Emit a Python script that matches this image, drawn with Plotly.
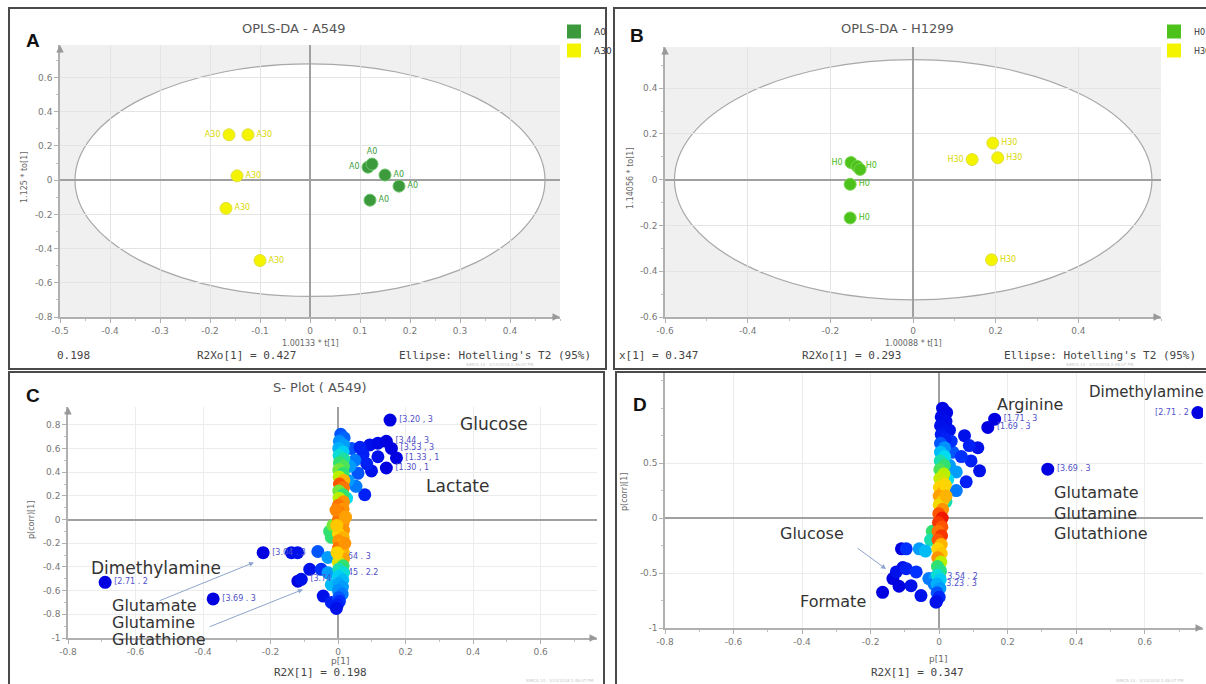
import plotly.graph_objects as go

W, H = 1206, 684

# ---------------- data ----------------
# Panel A : OPLS-DA scores A549
A0_t = [0.116, 0.124, 0.150, 0.178, 0.120]
A0_to = [0.076, 0.094, 0.030, -0.035, -0.117]
A0_pos = ['middle left', 'top center', 'middle right', 'middle right', 'middle right']
A30_t = [-0.162, -0.124, -0.146, -0.168, -0.100]
A30_to = [0.265, 0.265, 0.025, -0.165, -0.470]
A30_pos = ['middle left', 'middle right', 'middle right', 'middle right', 'middle right']

# Panel B : OPLS-DA scores H1299
H0_t = [-0.150, -0.135, -0.128, -0.152, -0.152]
H0_to = [0.075, 0.058, 0.045, -0.020, -0.167]
H0_lbl = ['H0', 'H0', '', 'H0', 'H0']
H0_pos = ['middle left', 'middle right', 'middle right', 'middle right', 'middle right']
H30_t = [0.193, 0.143, 0.205, 0.190]
H30_to = [0.160, 0.088, 0.096, -0.350]
H30_pos = ['middle right', 'middle left', 'middle right', 'middle right']

# Panel C : S-plot A549 (outlying variables)
C_out_p = [0.154, 0.094, 0.118, 0.143, 0.158, 0.074, 0.118, 0.173, 0.143, 0.099, 0.079,
           0.059, 0.053, 0.040, 0.050, 0.035, 0.030, 0.025, 0.065, 0.085,
           -0.690, -0.370, -0.222, -0.138, -0.120, -0.060, -0.119, -0.109, -0.084,
           -0.050, -0.044, -0.020, -0.030, -0.030, -0.020, -0.025, -0.020, -0.015]
C_out_pc = [0.84, 0.63, 0.645, 0.66, 0.60, 0.55, 0.53, 0.52, 0.435, 0.41, 0.21,
            0.39, 0.28, 0.60, 0.50, 0.45, 0.33, 0.18, 0.61, 0.47,
            -0.53, -0.67, -0.28, -0.28, -0.28, -0.27, -0.52, -0.505, -0.42,
            -0.42, -0.646, -0.70, -0.32, -0.45, -0.55, -0.10, -0.15, -0.05]
C_out_c = [0.0, 0.05, 0.03, 0.0, 0.0, 0.1, 0.05, 0.0, 0.0, 0.05, 0.1,
           0.2, 0.25, 0.2, 0.25, 0.3, 0.3, 0.4, 0.1, 0.1,
           0.0, 0.0, 0.0, 0.05, 0.05, 0.2, 0.0, 0.05, 0.05,
           0.15, 0.05, 0.1, 0.3, 0.3, 0.35, 0.5, 0.5, 0.55]
C_out_lbl = ['[3.20 , 3', '', '', '[3.44 , 3', '[3.53 , 3', '', '', '[1.33 , 1', '[1.30 , 1', '', '',
             '', '', '', '', '', '', '', '', '',
             '[2.71 . 2', '[3.69 . 3', '[3.04 . 3', '', '', '', '', '[3.74 . 3', '',
             '', '', '', '[3.64 . 3', '[2.45 . 2.2', '', '', '', '']

# Panel C : S-plot A549 (central column)
C_col_p = [0.008, 0.018, 0.004, 0.016, 0.002, 0.015, 0.003, 0.017, 0.004, 0.016,
           0.002, 0.015, 0.003, 0.017, 0.004, 0.016, 0.002, 0.015, 0.003, 0.016,
           0.001, 0.015, 0.003, 0.016, 0.001, 0.015, 0.002, 0.016, 0.001, 0.015,
           0.002, 0.016, 0.001, 0.015, 0.002, 0.016, 0.001, 0.015, 0.002, 0.016,
           0.001, 0.014, 0.002, 0.013, 0.001, 0.012, 0.002, 0.004, -0.002, -0.005,
           -0.006, 0.022, -0.004, 0.020, -0.003]
C_col_pc = [0.72, 0.69, 0.66, 0.63, 0.60, 0.57, 0.54, 0.51, 0.48, 0.45,
            0.42, 0.39, 0.36, 0.33, 0.30, 0.27, 0.24, 0.21, 0.18, 0.15,
            0.12, 0.09, 0.06, 0.03, 0.00, -0.03, -0.06, -0.09, -0.12, -0.15,
            -0.18, -0.21, -0.24, -0.27, -0.30, -0.33, -0.36, -0.39, -0.42, -0.45,
            -0.48, -0.51, -0.54, -0.57, -0.60, -0.63, -0.66, -0.69, -0.72, -0.75,
            0.08, 0.02, -0.05, -0.20, -0.28]
C_col_c = [0.2, 0.22, 0.28, 0.3, 0.33, 0.38, 0.42, 0.46, 0.5, 0.52,
           0.55, 0.5, 0.6, 0.75, 0.9, 0.85, 0.55, 0.5, 0.6, 0.8,
           0.85, 0.8, 0.85, 0.8, 0.85, 0.8, 0.75, 0.8, 0.7, 0.75,
           0.8, 0.7, 0.85, 0.75, 0.7, 0.78, 0.65, 0.5, 0.45, 0.42,
           0.38, 0.35, 0.32, 0.3, 0.28, 0.25, 0.2, 0.15, 0.1, 0.05,
           0.82, 0.78, 0.72, 0.8, 0.7]

# Panel D : S-plot H1299 (outlying variables)
D_out_p = [0.755, 0.162, 0.142, 0.317, 0.074, 0.113, 0.088, 0.118, 0.079, 0.050,
           0.050, 0.093, 0.040, 0.030, 0.035, 0.065, 0.030, 0.025, 0.020,
           -0.110, -0.106, -0.135, -0.117, -0.165, -0.125, -0.096, -0.058, -0.096,
           -0.067, -0.082, -0.053, -0.009, -0.030, -0.020, -0.025, -0.040, -0.012, -0.015]
D_out_pc = [0.96, 0.90, 0.825, 0.445, 0.75, 0.64, 0.66, 0.43, 0.33, 0.25,
            0.42, 0.52, 0.60, 0.80, 0.70, 0.56, 0.48, 0.35, 0.15,
            -0.28, -0.45, -0.55, -0.62, -0.675, -0.49, -0.28, -0.28, -0.46,
            -0.49, -0.615, -0.705, -0.765, -0.55, -0.12, -0.20, -0.30, -0.54, -0.60]
D_out_c = [0.0, 0.0, 0.0, 0.0, 0.05, 0.05, 0.1, 0.05, 0.1, 0.25,
           0.3, 0.1, 0.2, 0.05, 0.15, 0.15, 0.3, 0.4, 0.45,
           0.0, 0.05, 0.0, 0.0, 0.0, 0.05, 0.15, 0.3, 0.1,
           0.15, 0.05, 0.05, 0.1, 0.25, 0.5, 0.45, 0.35, 0.3, 0.25]
D_out_lbl = ['[2.71 . 2', '[1.71 . 3', '[1.69 . 3', '[3.69 . 3', '', '', '', '', '', '',
             '', '', '', '', '', '', '', '', '',
             '', '', '', '', '', '', '', '', '',
             '', '', '', '', '', '', '', '', '[3.54 . 2', '[3.23 . 3']
D_out_pos = ['middle left'] + ['middle right'] * 37

# Panel D : S-plot H1299 (central column)
D_col_p = [0.010, 0.022, 0.006, 0.020, 0.004, 0.020, 0.006, 0.018, 0.004, 0.016,
           0.004, 0.016, 0.003, 0.015, 0.002, 0.014, 0.002, 0.013, 0.001, 0.012,
           0.000, 0.011, 0.000, 0.010, -0.001, 0.009, -0.002, 0.008, -0.003, 0.007,
           -0.003, 0.006, -0.004, 0.006, -0.004, 0.005, -0.005, 0.004, -0.005, 0.003,
           -0.006, 0.002, -0.006, 0.000, -0.008, 0.018, 0.020]
D_col_pc = [1.00, 0.96, 0.92, 0.88, 0.84, 0.80, 0.76, 0.72, 0.68, 0.64,
            0.60, 0.56, 0.52, 0.48, 0.44, 0.40, 0.36, 0.32, 0.28, 0.24,
            0.20, 0.16, 0.12, 0.08, 0.04, 0.00, -0.04, -0.08, -0.12, -0.16,
            -0.20, -0.24, -0.28, -0.32, -0.36, -0.40, -0.44, -0.48, -0.52, -0.56,
            -0.60, -0.64, -0.68, -0.72, -0.76, 0.30, 0.20]
D_col_c = [0.02, 0.02, 0.03, 0.04, 0.05, 0.06, 0.08, 0.1, 0.2, 0.28,
           0.35, 0.4, 0.45, 0.5, 0.52, 0.6, 0.62, 0.65, 0.7, 0.75,
           0.78, 0.72, 0.68, 0.8, 0.9, 1.0, 0.95, 0.9, 0.85, 0.95,
           0.9, 0.75, 0.7, 0.72, 0.8, 0.6, 0.5, 0.48, 0.42, 0.38,
           0.33, 0.3, 0.2, 0.12, 0.05, 0.7, 0.75]

# axis ticks
A_xticks = [-0.5, -0.4, -0.3, -0.2, -0.1, 0, 0.1, 0.2, 0.3, 0.4]
A_xtext = ['-0.5', '-0.4', '-0.3', '-0.2', '-0.1', '0', '0.1', '0.2', '0.3', '0.4']
A_yticks = [-0.8, -0.6, -0.4, -0.2, 0, 0.2, 0.4, 0.6]
A_ytext = ['-0.8', '-0.6', '-0.4', '-0.2', '0', '0.2', '0.4', '0.6']
B_xticks = [-0.6, -0.4, -0.2, 0, 0.2, 0.4]
B_xtext = ['-0.6', '-0.4', '-0.2', '0', '0.2', '0.4']
B_yticks = [-0.6, -0.4, -0.2, 0, 0.2, 0.4]
B_ytext = ['-0.6', '-0.4', '-0.2', '0', '0.2', '0.4']
S_xticks = [-0.8, -0.6, -0.4, -0.2, 0, 0.2, 0.4, 0.6]
S_xtext = ['-0.8', '-0.6', '-0.4', '-0.2', '0', '0.2', '0.4', '0.6']
C_yticks = [-1, -0.8, -0.6, -0.4, -0.2, 0, 0.2, 0.4, 0.6, 0.8]
C_ytext = ['-1', '-0.8', '-0.6', '-0.4', '-0.2', '0', '0.2', '0.4', '0.6', '0.8']
D_yticks = [-1, -0.5, 0, 0.5]
D_ytext = ['-1', '-0.5', '0', '0.5']

# ---------------- helpers ----------------
def px(x):
    return x / W

def py(y):
    return 1 - y / H

JET = [[0.0, '#0000e0'], [0.15, '#0030ff'], [0.28, '#0090ff'], [0.4, '#00dcf0'],
       [0.5, '#30e070'], [0.6, '#b8f000'], [0.7, '#ffd400'], [0.8, '#ff9400'],
       [0.9, '#ff5400'], [1.0, '#f01800']]

FONT = 'DejaVu Sans'
MONO = 'DejaVu Sans Mono'
TICKF = dict(family=FONT, size=9, color='#777')
MS = 13

fig = go.Figure()

# --- Panel A traces
fig.add_trace(go.Scatter(x=A0_t, y=A0_to, mode='markers+text', text=['A0'] * 5,
                         textposition=A0_pos, textfont=dict(family=FONT, size=8, color='#3c9c3c'),
                         marker=dict(size=12, color='#3c9a3c', line=dict(color='#6cc46c', width=1)),
                         showlegend=False, xaxis='x', yaxis='y'))
fig.add_trace(go.Scatter(x=A30_t, y=A30_to, mode='markers+text', text=['A30'] * 5,
                         textposition=A30_pos, textfont=dict(family=FONT, size=8, color='#d8d800'),
                         marker=dict(size=12, color='#f4f400', line=dict(color='#e0e040', width=1)),
                         showlegend=False, xaxis='x', yaxis='y'))
fig.add_trace(go.Scatter(x=[None], y=[None], mode='markers', name='A0',
                         marker=dict(symbol='square', size=14, color='#3c9a3c'),
                         legend='legend', xaxis='x', yaxis='y'))
fig.add_trace(go.Scatter(x=[None], y=[None], mode='markers', name='A30',
                         marker=dict(symbol='square', size=14, color='#f4f400'),
                         legend='legend', xaxis='x', yaxis='y'))

# --- Panel B traces
fig.add_trace(go.Scatter(x=H0_t, y=H0_to, mode='markers+text', text=H0_lbl,
                         textposition=H0_pos, textfont=dict(family=FONT, size=8, color='#48b820'),
                         marker=dict(size=12, color='#4cc21a', line=dict(color='#7ad850', width=1)),
                         showlegend=False, xaxis='x2', yaxis='y2'))
fig.add_trace(go.Scatter(x=H30_t, y=H30_to, mode='markers+text', text=['H30'] * 4,
                         textposition=H30_pos, textfont=dict(family=FONT, size=8, color='#d8d800'),
                         marker=dict(size=12, color='#f4f400', line=dict(color='#e0e040', width=1)),
                         showlegend=False, xaxis='x2', yaxis='y2'))
fig.add_trace(go.Scatter(x=[None], y=[None], mode='markers', name='H0',
                         marker=dict(symbol='square', size=14, color='#4cc21a'),
                         legend='legend2', xaxis='x2', yaxis='y2'))
fig.add_trace(go.Scatter(x=[None], y=[None], mode='markers', name='H30',
                         marker=dict(symbol='square', size=14, color='#f4f400'),
                         legend='legend2', xaxis='x2', yaxis='y2'))

# --- Panel C traces
fig.add_trace(go.Scatter(x=C_out_p, y=C_out_pc, mode='markers+text', text=C_out_lbl,
                         textposition='middle right', textfont=dict(family=FONT, size=8, color='#5050c8'),
                         marker=dict(size=MS, color=C_out_c, colorscale=JET, cmin=0, cmax=1, line=dict(width=0)),
                         showlegend=False, xaxis='x3', yaxis='y3'))
fig.add_trace(go.Scatter(x=C_col_p, y=C_col_pc, mode='markers',
                         marker=dict(size=MS, color=C_col_c, colorscale=JET, cmin=0, cmax=1, line=dict(width=0)),
                         showlegend=False, xaxis='x3', yaxis='y3'))

# --- Panel D traces
fig.add_trace(go.Scatter(x=D_out_p, y=D_out_pc, mode='markers+text', text=D_out_lbl,
                         textposition=D_out_pos, textfont=dict(family=FONT, size=8, color='#5050c8'),
                         marker=dict(size=MS, color=D_out_c, colorscale=JET, cmin=0, cmax=1, line=dict(width=0)),
                         showlegend=False, xaxis='x4', yaxis='y4'))
fig.add_trace(go.Scatter(x=D_col_p, y=D_col_pc, mode='markers',
                         marker=dict(size=MS, color=D_col_c, colorscale=JET, cmin=0, cmax=1, line=dict(width=0)),
                         showlegend=False, xaxis='x4', yaxis='y4'))


def ax_common(tickvals, ticktext, rng, dom, anchor, grid='#e4e4e4', minor_dt=None):
    d = dict(domain=dom, range=rng, anchor=anchor, tickvals=tickvals, ticktext=ticktext,
             tickfont=TICKF, showgrid=True, gridcolor=grid, gridwidth=1,
             zeroline=True, zerolinecolor='#a0a0a0', zerolinewidth=1.5,
             showline=True, linecolor='#b0b0b0', linewidth=1.5,
             ticks='outside', ticklen=4, tickcolor='#b0b0b0', fixedrange=True)
    if minor_dt is not None:
        d['minor'] = dict(dtick=minor_dt, ticks='outside', ticklen=2, tickcolor='#c0c0c0', showgrid=False)
    return d


layout = dict(
    width=W, height=H, margin=dict(l=0, r=0, t=0, b=0, pad=0, autoexpand=False),
    paper_bgcolor='white', plot_bgcolor='white',
    font=dict(family=FONT, color='#444'),
    xaxis=ax_common(A_xticks, A_xtext, [-0.5, 0.5], [px(60), px(560)], 'y', minor_dt=0.05),
    yaxis=ax_common(A_yticks, A_ytext, [-0.8, 0.79], [py(317), py(45)], 'x', minor_dt=0.1),
    xaxis2=ax_common(B_xticks, B_xtext, [-0.6, 0.6], [px(665), px(1161)], 'y2', minor_dt=0.1),
    yaxis2=ax_common(B_yticks, B_ytext, [-0.6, 0.58], [py(317), py(47)], 'x2', minor_dt=0.1),
    xaxis3=ax_common(S_xticks, S_xtext, [-0.8, 0.767], [px(68), px(597)], 'y3', grid='#ececec', minor_dt=0.1),
    yaxis3=ax_common(C_yticks, C_ytext, [-1, 0.95], [py(638), py(407)], 'x3', grid='#ececec', minor_dt=0.1),
    xaxis4=ax_common(S_xticks, S_xtext, [-0.8, 0.77], [px(665), px(1203)], 'y4', grid='#ececec', minor_dt=0.1),
    yaxis4=ax_common(D_yticks, D_ytext, [-1, 1.32], [py(628), py(373)], 'x4', grid='#ececec', minor_dt=0.25),
    legend=dict(x=px(554), y=py(17), xanchor='left', yanchor='top', bgcolor='rgba(0,0,0,0)',
                font=dict(family=FONT, size=9, color='#333'), itemwidth=30, tracegroupgap=0),
    legend2=dict(x=px(1154), y=py(17), xanchor='left', yanchor='top', bgcolor='rgba(0,0,0,0)',
                 font=dict(family=FONT, size=8, color='#333'), itemwidth=30, tracegroupgap=0),
)
fig.update_layout(**layout)

shapes = []
# gray background + white Hotelling ellipse (panels A, B)
shapes.append(dict(type='rect', xref='x', yref='y', x0=-0.5, x1=0.5, y0=-0.8, y1=0.79,
                   fillcolor='#f0f0f0', line=dict(width=0), layer='below'))
shapes.append(dict(type='circle', xref='x', yref='y', x0=-0.47, x1=0.47, y0=-0.68, y1=0.68,
                   fillcolor='white', line=dict(color='#a8a8a8', width=1.2), layer='below'))
shapes.append(dict(type='rect', xref='x2', yref='y2', x0=-0.6, x1=0.6, y0=-0.6, y1=0.58,
                   fillcolor='#f0f0f0', line=dict(width=0), layer='below'))
shapes.append(dict(type='circle', xref='x2', yref='y2', x0=-0.577, x1=0.578, y0=-0.525, y1=0.525,
                   fillcolor='white', line=dict(color='#a8a8a8', width=1.2), layer='below'))
# panel frames (bottom / right edges run off the page as in the reference)
for (x0, y0, x1, y1) in [(9, 8, 606, 369), (614, 8, 1215, 369), (9, 372, 604, 695), (616, 372, 1215, 695)]:
    shapes.append(dict(type='rect', xref='paper', yref='paper', x0=px(x0), x1=px(x1), y0=py(y1), y1=py(y0),
                       line=dict(color='#4a4a4a', width=2), fillcolor='rgba(0,0,0,0)', layer='above'))
fig.update_layout(shapes=shapes)

ann = []


def txt(t, x, y, size=9, color='#444', family=FONT, xanchor='center', angle=0, bold=False):
    ann.append(dict(text=('<b>%s</b>' % t) if bold else t, x=px(x), y=py(y), xref='paper', yref='paper',
                    showarrow=False, xanchor=xanchor, yanchor='middle', textangle=angle,
                    font=dict(size=size, color=color, family=family)))


# panel letters and titles
txt('A', 33, 40, 19, '#111', 'Liberation Sans', bold=True)
txt('B', 637, 36, 19, '#111', 'Liberation Sans', bold=True)
txt('C', 33, 395, 19, '#111', 'Liberation Sans', bold=True)
txt('D', 640, 405, 19, '#111', 'Liberation Sans', bold=True)
txt('OPLS-DA - A549', 294, 28, 13, '#555')
txt('OPLS-DA - H1299', 897, 28, 13, '#555')
txt('S- Plot ( A549)', 320, 387, 13, '#555')

# axis titles
txt('1.00133 * t[1]', 310, 343, 8, '#666')
txt('1.125 * to[1]', 24, 178, 8, '#666', angle=-90)
txt('1.00088 * t[1]', 913, 343, 8, '#666')
txt('1.14056 * to[1]', 630, 178, 8, '#666', angle=-90)
txt('p[1]', 340, 661, 9, '#666')
txt('p(corr)[1]', 31, 520, 8, '#666', angle=-90)
txt('p[1]', 938, 659, 9, '#666')
txt('p(corr)[1]', 624, 492, 8, '#666', angle=-90)

# model statistics rows
txt('0.198', 55, 355, 11, '#444', MONO, 'left')
txt('R2Xo[1] = 0.427', 195, 355, 11, '#444', MONO, 'left')
txt("Ellipse: Hotelling's T2 (95%)", 397, 355, 11, '#444', MONO, 'left')
txt('x[1] = 0.347', 617, 355, 11, '#444', MONO, 'left')
txt('R2Xo[1] = 0.293', 800, 355, 11, '#444', MONO, 'left')
txt("Ellipse: Hotelling's T2 (95%)", 1002, 355, 11, '#444', MONO, 'left')
txt('R2X[1] = 0.198', 320, 672, 11, '#444', MONO)
txt('R2X[1] = 0.347', 917, 672, 11, '#444', MONO)
for (x, y) in [(500, 365), (1100, 365), (560, 680), (1150, 680)]:
    txt('SIMCA 14 - 3/14/2018 2:48:07 PM', x, y, 4, '#c8c8c8')

# metabolite annotations
MET = '#333'
txt('Dimethylamine', 156, 568, 17, MET)
txt('Glutamate', 110, 605, 16, MET, xanchor='left')
txt('Glutamine', 110, 622, 16, MET, xanchor='left')
txt('Glutathione', 110, 639, 16, MET, xanchor='left')
txt('Glucose', 494, 424, 17, MET)
txt('Lactate', 457, 486, 17, MET)
txt('Dimethylamine', 1087, 392, 15, MET, xanchor='left')
txt('Arginine', 995, 404, 16, MET, xanchor='left')
txt('Glutamate', 1052, 493, 16, MET, xanchor='left')
txt('Glutamine', 1052, 513, 16, MET, xanchor='left')
txt('Glutathione', 1052, 533, 16, MET, xanchor='left')
txt('Glucose', 778, 533, 16, MET, xanchor='left')
txt('Formate', 798, 601, 16, MET, xanchor='left')

# pointer arrows
ARW = '#8ea4cc'
for (xr, yr, hx, hy, tx, ty) in [('x3', 'y3', -0.249, -0.362, -0.533, -0.69),
                                 ('x3', 'y3', -0.104, -0.59, -0.385, -0.91),
                                 ('x4', 'y4', -0.155, -0.464, -0.242, -0.264)]:
    ann.append(dict(x=hx, y=hy, ax=tx, ay=ty, xref=xr, yref=yr, axref=xr, ayref=yr, text='',
                    showarrow=True, arrowhead=2, arrowsize=1, arrowwidth=1, arrowcolor=ARW))

# axis arrow heads
for (xr, yr, x, y, dx, dy) in [('x', 'y', 0.5, -0.8, -9, 0), ('x', 'y', -0.5, 0.79, 0, 9),
                               ('x2', 'y2', 0.6, -0.6, -9, 0), ('x2', 'y2', -0.6, 0.58, 0, 9),
                               ('x3', 'y3', 0.767, -1, -9, 0), ('x3', 'y3', -0.8, 0.95, 0, 9),
                               ('x4', 'y4', 0.77, -1, -9, 0)]:
    ann.append(dict(x=x, y=y, ax=dx, ay=dy, xref=xr, yref=yr, text='', showarrow=True,
                    arrowhead=2, arrowsize=1, arrowwidth=1.5, arrowcolor='#999'))

fig.update_layout(annotations=ann)
fig.write_html('out.html', config={'displayModeBar': False},
               post_script="document.body.style.margin='0';document.body.style.overflow='hidden';")
